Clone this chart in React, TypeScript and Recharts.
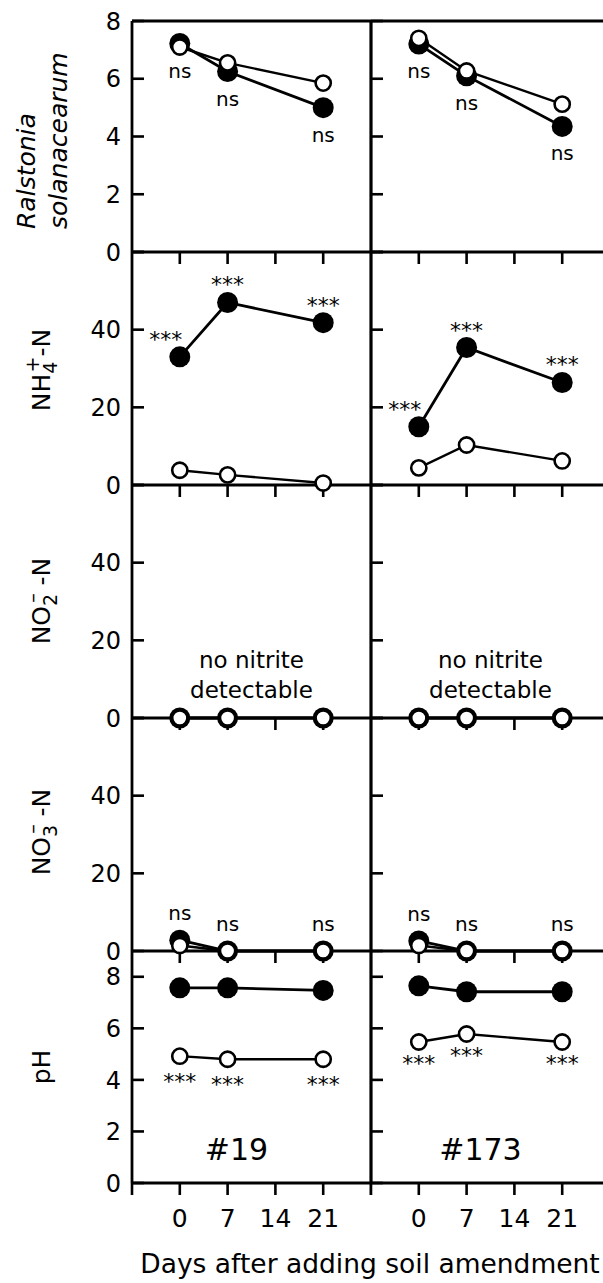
import React from "react";
import { LineChart, Line, XAxis, YAxis, ReferenceLine } from "recharts";

const FONT = "DejaVu Sans, Verdana, sans-serif";

// sampling days and x axis ticks
const days = [0, 7, 21];
const dayTicks = [-7, 0, 7, 14, 21, 28];
const dayLabels = [0, 7, 14, 21];

// Ralstonia solanacearum (log)
const rsFilled19 = [7.22, 6.25, 5.0];
const rsOpen19 = [7.1, 6.55, 5.85];
const rsFilled173 = [7.2, 6.1, 4.35];
const rsOpen173 = [7.4, 6.27, 5.12];
const rsSig19 = ["ns", "ns", "ns"];
const rsSig173 = ["ns", "ns", "ns"];

// NH4+-N
const nhFilled19 = [33, 47, 41.8];
const nhOpen19 = [3.8, 2.6, 0.5];
const nhFilled173 = [15, 35.4, 26.4];
const nhOpen173 = [4.4, 10.3, 6.2];
const nhSig19 = ["***", "***", "***"];
const nhSig173 = ["***", "***", "***"];

// NO2--N
const no2Filled19 = [0, 0, 0];
const no2Open19 = [0, 0, 0];
const no2Filled173 = [0, 0, 0];
const no2Open173 = [0, 0, 0];
const no2Note = ["no nitrite", "detectable"];

// NO3--N
const no3Filled19 = [2.8, 0, 0];
const no3Open19 = [1.4, 0, 0];
const no3Filled173 = [2.6, 0, 0];
const no3Open173 = [1.4, 0, 0];
const no3Sig19 = ["ns", "ns", "ns"];
const no3Sig173 = ["ns", "ns", "ns"];

// pH
const phFilled19 = [7.57, 7.57, 7.47];
const phOpen19 = [4.92, 4.8, 4.8];
const phFilled173 = [7.65, 7.42, 7.42];
const phOpen173 = [5.47, 5.78, 5.47];
const phSig19 = ["***", "***", "***"];
const phSig173 = ["***", "***", "***"];

const soilNames = ["#19", "#173"];

const rsTicks = [0, 2, 4, 6, 8];
const concTicks = [0, 20, 40, 60];
const concLabels = [0, 20, 40];
const phTicks = [0, 2, 4, 6, 8];

// layout
const ROW_EDGES = [21, 252, 485, 718, 951, 1183];
const AXIS_X = 132;
const DIV_X = 371;
const PLOT_W = 239;

const rows = [
  {
    domain: [0, 8], ticks: rsTicks, labels: rsTicks, sigOn: "filled",
    sigDy: [34, 34], firstDx: 0,
    cols: [
      { filled: rsFilled19, open: rsOpen19, sig: rsSig19 },
      { filled: rsFilled173, open: rsOpen173, sig: rsSig173 },
    ],
  },
  {
    domain: [0, 60], ticks: concTicks, labels: concLabels, sigOn: "filled",
    sigDy: [-10, -10], firstDx: -14,
    cols: [
      { filled: nhFilled19, open: nhOpen19, sig: nhSig19 },
      { filled: nhFilled173, open: nhOpen173, sig: nhSig173 },
    ],
  },
  {
    domain: [0, 60], ticks: concTicks, labels: concLabels, sigOn: null,
    sigDy: [0, 0], firstDx: 0,
    cols: [
      { filled: no2Filled19, open: no2Open19, sig: null },
      { filled: no2Filled173, open: no2Open173, sig: null },
    ],
  },
  {
    domain: [0, 60], ticks: concTicks, labels: concLabels, sigOn: "filled",
    sigDy: [-20, -20], firstDx: 0,
    cols: [
      { filled: no3Filled19, open: no3Open19, sig: no3Sig19 },
      { filled: no3Filled173, open: no3Open173, sig: no3Sig173 },
    ],
  },
  {
    domain: [0, 9], ticks: phTicks, labels: phTicks, sigOn: "open",
    sigDy: [33, 29], firstDx: 0,
    cols: [
      { filled: phFilled19, open: phOpen19, sig: phSig19 },
      { filled: phFilled173, open: phOpen173, sig: phSig173 },
    ],
  },
];

const YTick = (props: any) => {
  const { y, payload, axisX, labels } = props;
  const show = labels.includes(payload.value);
  return (
    <g>
      <line x1={axisX} x2={axisX + 12} y1={y} y2={y} stroke="#000" strokeWidth={2.6} />
      {show && (
        <text x={axisX - 11} y={y} dy="0.36em" textAnchor="end" fontSize={24} fontFamily={FONT} fill="#000">
          {payload.value}
        </text>
      )}
    </g>
  );
};

const NoTick = () => <g />;

function makeDot(kind: string, sig: string[] | null, dy: number, firstDx: number) {
  return (p: any) => {
    const { cx, cy, index } = p;
    if (cx == null || cy == null) return <g key={`e${index}`} />;
    const s = sig ? sig[index] : null;
    return (
      <g key={`${kind}${index}`}>
        {kind === "filled" ? (
          <circle cx={cx} cy={cy} r={10.5} fill="#000" />
        ) : (
          <circle cx={cx} cy={cy} r={7.6} fill="#fff" stroke="#000" strokeWidth={2.6} />
        )}
        {s && (
          <text
            x={cx + (index === 0 ? firstDx : 0)}
            y={cy + dy}
            textAnchor="middle"
            fontSize={s === "ns" ? 20 : 22}
            fontFamily={FONT}
            fill="#000"
          >
            {s}
          </text>
        )}
      </g>
    );
  };
}

function Panel({ row, col }: { row: number; col: number }) {
  const spec = rows[row];
  const c = spec.cols[col];
  const top = ROW_EDGES[row];
  const plotH = ROW_EDGES[row + 1] - top;
  const isFirst = row === 0;
  const isLast = row === rows.length - 1;
  const padT = 18;
  const padB = 16;
  const bottomH = isLast ? 52 : 1;
  const yw = col === 0 ? AXIS_X : 10;
  const left = col === 0 ? 0 : DIV_X - yw;
  const data = days.map((d, i) => ({ day: d, filled: c.filled[i], open: c.open[i] }));
  const sigDy = spec.sigDy[col];

  return (
    <div style={{ position: "absolute", left, top: top - padT }}>
      <LineChart
        width={yw + PLOT_W}
        height={padT + plotH + bottomH + padB}
        data={data}
        margin={{ top: padT, right: 0, bottom: padB, left: 0 }}
      >
        <XAxis
          dataKey="day"
          type="number"
          domain={[-7, 28]}
          ticks={isLast ? dayTicks : dayLabels}
          interval={0}
          height={bottomH}
          axisLine={{ stroke: "#000", strokeWidth: 2.8 }}
          tickLine={{ stroke: "#000", strokeWidth: 2.6 }}
          tickSize={12}
          tickMargin={14}
          tick={isLast ? { fill: "#000", fontSize: 25, fontFamily: FONT } : <NoTick />}
          tickFormatter={(v: number) => (dayLabels.includes(v) ? String(v) : "")}
        />
        <YAxis
          type="number"
          domain={spec.domain}
          ticks={spec.ticks}
          interval={0}
          width={yw}
          axisLine={{ stroke: "#000", strokeWidth: col === 0 ? 2.8 : 3.2 }}
          tickLine={false}
          tickSize={0}
          tickMargin={0}
          tick={<YTick axisX={yw} labels={col === 0 ? spec.labels : []} />}
        />
        {isFirst && (
          <ReferenceLine y={spec.domain[1]} stroke="#000" strokeWidth={2.8} ifOverflow="visible" />
        )}
        <Line
          dataKey="filled"
          stroke="#000"
          strokeWidth={2.8}
          isAnimationActive={false}
          dot={makeDot("filled", spec.sigOn === "filled" ? c.sig : null, sigDy, spec.firstDx)}
          activeDot={false}
        />
        <Line
          dataKey="open"
          stroke="#000"
          strokeWidth={2.4}
          isAnimationActive={false}
          dot={makeDot("open", spec.sigOn === "open" ? c.sig : null, sigDy, spec.firstDx)}
          activeDot={false}
        />
      </LineChart>
    </div>
  );
}

const Titles = () => (
  <svg width={AXIS_X} height={1283} style={{ position: "absolute", left: 0, top: 0 }} fontFamily={FONT}>
    <text transform="translate(35,229) rotate(-90)" fontSize={25} fontStyle="italic">Ralstonia</text>
    <text transform="translate(67,229) rotate(-90)" fontSize={25} fontStyle="italic">solanacearum</text>
    <text transform="translate(50,370) rotate(-90)" fontSize={25} textAnchor="middle">
      NH<tspan dy={7} fontSize={19}>4</tspan>
      <tspan dx={-11} dy={-18} fontSize={19}>+</tspan>
      <tspan dy={11}>-N</tspan>
    </text>
    <text transform="translate(50,601) rotate(-90)" fontSize={25} textAnchor="middle">
      NO<tspan dy={7} fontSize={19}>2</tspan>
      <tspan dx={-9} dy={-18} fontSize={19}>–</tspan>
      <tspan dy={11}> -N</tspan>
    </text>
    <text transform="translate(50,832) rotate(-90)" fontSize={25} textAnchor="middle">
      NO<tspan dy={7} fontSize={19}>3</tspan>
      <tspan dx={-9} dy={-18} fontSize={19}>–</tspan>
      <tspan dy={11}> -N</tspan>
    </text>
    <text transform="translate(50,1067) rotate(-90)" fontSize={25} textAnchor="middle">pH</text>
  </svg>
);

export default function App() {
  const noteTop = ROW_EDGES[2] + 160;
  return (
    <div
      style={{
        position: "absolute",
        left: 0,
        top: 0,
        width: 603,
        height: 1283,
        overflow: "hidden",
        background: "#fff",
        fontFamily: FONT,
        color: "#000",
      }}
    >
      {rows.map((_, r) => (
        <React.Fragment key={r}>
          <Panel row={r} col={0} />
          <Panel row={r} col={1} />
        </React.Fragment>
      ))}
      <Titles />
      {[0, 1].map((c) => (
        <div
          key={`n${c}`}
          style={{
            position: "absolute",
            left: c === 0 ? AXIS_X : DIV_X,
            width: PLOT_W,
            top: noteTop,
            textAlign: "center",
            fontSize: 23,
            lineHeight: "30px",
          }}
        >
          {no2Note.map((t) => (
            <div key={t}>{t}</div>
          ))}
        </div>
      ))}
      {soilNames.map((n, c) => (
        <div
          key={n}
          style={{
            position: "absolute",
            left: c === 0 ? AXIS_X - 15 : DIV_X - 10,
            width: PLOT_W,
            top: 1132,
            textAlign: "center",
            fontSize: 30,
          }}
        >
          {n}
        </div>
      ))}
      <div
        style={{
          position: "absolute",
          left: 0,
          width: 740,
          top: 1248,
          textAlign: "center",
          fontSize: 26.5,
          whiteSpace: "nowrap",
        }}
      >
        Days after adding soil amendment
      </div>
    </div>
  );
}
